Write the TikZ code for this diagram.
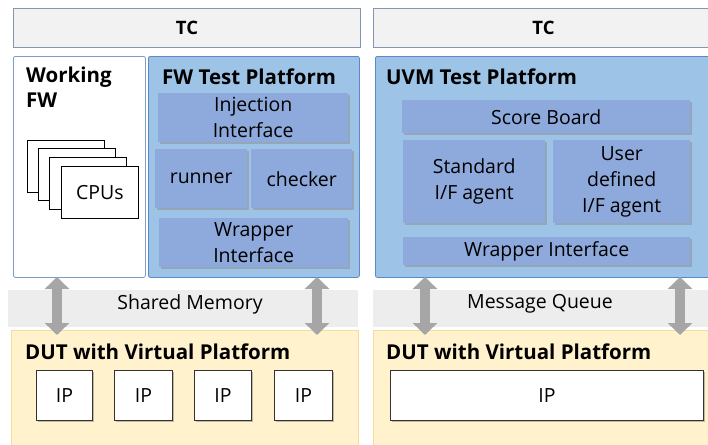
\documentclass[tikz,border=0pt]{standalone}
\usepackage{fontspec}
\setmainfont{Open Sans}
\usetikzlibrary{shadows,arrows.meta}
\definecolor{tcfill}{HTML}{F2F2F2}
\definecolor{tcdraw}{HTML}{8497B0}
\definecolor{pfill}{HTML}{9DC3E6}
\definecolor{pdraw}{HTML}{5B8BC5}
\definecolor{ifill}{HTML}{8EA9DB}
\definecolor{dfill}{HTML}{FFF2CC}
\definecolor{ddraw}{HTML}{F5DC9C}
\definecolor{band}{HTML}{EDEDED}
\definecolor{arr}{HTML}{A6A6A6}
\definecolor{wdraw}{HTML}{7F9CC8}
\tikzset{
  box/.style={rectangle, inner sep=0pt, anchor=north west},
  tcbox/.style={box, fill=tcfill, draw=tcdraw, line width=1pt},
  platbox/.style={box, fill=pfill, draw=pdraw, line width=0.8pt, rounded corners=2pt},
  workbox/.style={box, fill=white, draw=wdraw, line width=0.8pt, rounded corners=2pt},
  inbox/.style={box, fill=ifill, draw=none, drop shadow={shadow xshift=1.5pt, shadow yshift=-1.5pt, fill=black!45, opacity=0.5}, align=center, font=\fontsize{19.5}{26}\selectfont},
  dutbox/.style={box, fill=dfill, draw=ddraw, line width=0.8pt},
  ipbox/.style={box, fill=white, draw=black!80, line width=0.9pt, drop shadow={shadow xshift=2pt, shadow yshift=-2pt, fill=black!50, opacity=0.5}, font=\fontsize{19.5}{22}\selectfont},
  cpubox/.style={box, fill=white, draw=black, line width=0.9pt, minimum width=77pt, minimum height=52pt},
  bandbox/.style={box, fill=band, draw=none},
  title/.style={anchor=west, font=\bfseries\fontsize{20.5}{24}\selectfont, inner sep=0pt},
  lbl/.style={font=\fontsize{19.5}{22}\selectfont, inner sep=0pt},
  dbl/.style={draw=arr, line width=10pt, {Triangle[width=24pt,length=12pt]}-{Triangle[width=24pt,length=12pt]}, shorten <=-1pt, shorten >=-1pt}
}
\begin{document}
\begin{tikzpicture}[x=1pt,y=-1pt]
\useasboundingbox (0,0) rectangle (708,444);
% TC
\node[tcbox, minimum width=347pt, minimum height=39pt] (tc1) at (13,8) {};
\node[font=\bfseries\fontsize{18.5}{20}\selectfont] (tc1t) at (tc1.center) {TC};
\node[tcbox, minimum width=340pt, minimum height=39pt] (tc2) at (373,8) {};
\node[font=\bfseries\fontsize{18.5}{20}\selectfont] (tc2t) at (tc2.center) {TC};
% bands
\node[bandbox, minimum width=350pt, minimum height=37pt] (sm) at (8,290) {};
\node[lbl] (smt) at (190,304) {Shared Memory};
\node[bandbox, minimum width=335pt, minimum height=37pt] (mq) at (373,290) {};
\node[lbl] (mqt) at (540,304) {Message Queue};
% Working FW
\node[workbox, minimum width=132pt, minimum height=221pt] (wfw) at (13,56) {};
\node[title] (wfwt1) at (26,77) {Working};
\node[title] (wfwt2) at (26,100) {FW};
\node[cpubox] (c1) at (27,140) {};
\node[cpubox] (c2) at (38,148) {};
\node[cpubox] (c3) at (49,157) {};
\node[cpubox, font=\fontsize{19.5}{22}\selectfont] (c4) at (61,166) {CPUs};
% FW Test Platform
\node[platbox, minimum width=211pt, minimum height=221pt] (fwtp) at (148,56) {};
\node[title] (fwtpt) at (162,77) {FW Test Platform};
\node[inbox, minimum width=190pt, minimum height=49pt] (inj) at (158,93) {Injection\\Interface};
\node[inbox, minimum width=92pt, minimum height=59pt] (run) at (155,149) {runner};
\node[inbox, minimum width=101pt, minimum height=59pt] (chk) at (251,149) {checker};
\node[inbox, minimum width=189pt, minimum height=49pt] (wr1) at (159,218) {Wrapper\\Interface};
% UVM Test Platform
\node[platbox, minimum width=338pt, minimum height=221pt] (uvm) at (375,56) {};
\node[title] (uvmt) at (386,77) {UVM Test Platform};
\node[inbox, minimum width=288pt, minimum height=33pt] (sb) at (402,100) {Score Board};
\node[inbox, minimum width=142pt, minimum height=83pt] (std) at (403,140) {Standard\\I/F agent};
\node[inbox, minimum width=137pt, minimum height=83pt] (usr) at (553,140) {User\\defined\\I/F agent};
\node[inbox, minimum width=287pt, minimum height=28pt] (wr2) at (403,237) {Wrapper Interface};
% DUT
\node[dutbox, minimum width=347pt, minimum height=118pt] (dut1) at (11,330) {};
\node[title] (dut1t) at (25,352) {DUT with Virtual Platform};
\node[ipbox, minimum width=56pt, minimum height=50pt] (ip1) at (36,370) {IP};
\node[ipbox, minimum width=58pt, minimum height=50pt] (ip2) at (114,370) {IP};
\node[ipbox, minimum width=57pt, minimum height=50pt] (ip3) at (194,370) {IP};
\node[ipbox, minimum width=58pt, minimum height=50pt] (ip4) at (274,370) {IP};
\node[dutbox, minimum width=340pt, minimum height=118pt] (dut2) at (373,330) {};
\node[title] (dut2t) at (386,352) {DUT with Virtual Platform};
\node[ipbox, minimum width=313pt, minimum height=50pt] (ip5) at (390,370) {IP};
% arrows
\coordinate (a1t) at (57,278);
\coordinate (a1b) at (57,334);
\coordinate (a2t) at (317,278);
\coordinate (a2b) at (317,334);
\coordinate (a3t) at (425,278);
\coordinate (a3b) at (425,334);
\coordinate (a4t) at (680,278);
\coordinate (a4b) at (680,334);
\draw[dbl] (a1t) -- (a1b);
\draw[dbl] (a2t) -- (a2b);
\draw[dbl] (a3t) -- (a3b);
\draw[dbl] (a4t) -- (a4b);
\end{tikzpicture}
\end{document}
